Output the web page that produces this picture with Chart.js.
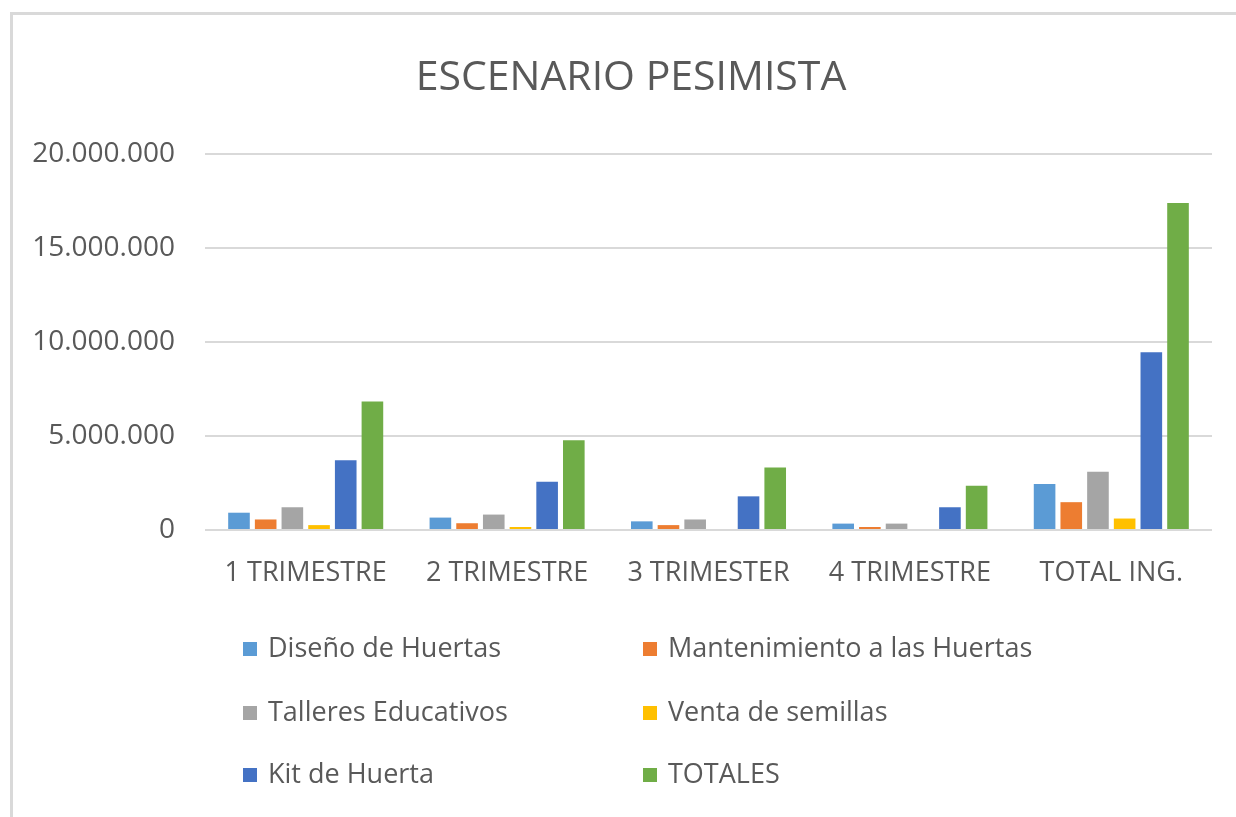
<!DOCTYPE html>
<html>
<head>
<meta charset="utf-8">
<script src="https://cdn.jsdelivr.net/npm/chart.js@4"></script>
<style>
  html, body { margin: 0; padding: 0; background: #fff; overflow: hidden; }
  #wrap { position: relative; width: 1236px; height: 817px; }
</style>
</head>
<body>
<div id="wrap"><canvas id="barChart" width="1236" height="817"></canvas></div>
<script>
const categories = ["1 TRIMESTRE", "2 TRIMESTRE", "3 TRIMESTER", "4 TRIMESTRE", "TOTAL ING."];
const seriesNames = ["Diseño de Huertas", "Mantenimiento a las Huertas", "Talleres Educativos", "Venta de semillas", "Kit de Huerta", "TOTALES"];
const diseno = [920000, 660000, 460000, 340000, 2450000];
const mantenimiento = [560000, 360000, 260000, 160000, 1480000];
const talleres = [1210000, 820000, 560000, 340000, 3100000];
const semillas = [260000, 160000, 0, 0, 610000];
const kit = [3710000, 2560000, 1790000, 1210000, 9460000];
const totales = [6840000, 4770000, 3320000, 2360000, 17400000];
const yTicks = [0, 5000000, 10000000, 15000000, 20000000];
const colors = ["#5b9bd5", "#ed7d31", "#a5a5a5", "#ffc000", "#4472c4", "#70ad47"];

const FONT = "'Open Sans', 'DejaVu Sans', sans-serif";
const TEXT = "#595959";

window.addEventListener("load", () => {
  const ctx = document.getElementById("barChart");
  const values = [diseno, mantenimiento, talleres, semillas, kit, totales];

  function fmt(v) {
    return String(v).replace(/\B(?=(\d{3})+(?!\d))/g, ".");
  }

  // 테두리, 제목, 범례 (2열)
  const framePlugin = {
    id: "frame",
    beforeDraw(chart) {
      const c = chart.ctx;
      c.save();
      c.strokeStyle = "#d9d9d9";
      c.lineWidth = 3;
      c.strokeRect(11.5, 13.5, 1300, 900);
      c.font = "41px " + FONT;
      c.fillStyle = TEXT;
      c.textAlign = "center";
      c.textBaseline = "middle";
      c.fillText("ESCENARIO PESIMISTA", 631, 78);
      c.restore();
    },
    afterDraw(chart) {
      const c = chart.ctx;
      const cols = [243, 643];
      const rows = [649, 713, 775];
      c.save();
      c.font = "27px " + FONT;
      c.textBaseline = "middle";
      c.textAlign = "left";
      chart.data.datasets.forEach((ds, i) => {
        const x = cols[i % 2];
        const y = rows[Math.floor(i / 2)];
        c.fillStyle = ds.backgroundColor;
        c.fillRect(x, y - 7, 14, 14);
        c.fillStyle = TEXT;
        c.fillText(ds.label, x + 25, y);
      });
      c.restore();
    },
  };

  new Chart(ctx, {
    type: "bar",
    data: {
      labels: categories,
      datasets: seriesNames.map((name, i) => ({
        label: name,
        data: values[i],
        backgroundColor: colors[i],
        borderWidth: 0,
        categoryPercentage: 0.795,
        barPercentage: 0.81,
      })),
    },
    options: {
      responsive: false,
      animation: false,
      layout: { padding: { top: 154, right: 24, bottom: 227, left: 0 } },
      plugins: {
        legend: { display: false },
        tooltip: { enabled: false },
        title: { display: false },
      },
      scales: {
        x: {
          grid: { display: false, drawTicks: false },
          border: { display: false },
          ticks: { color: TEXT, font: { family: FONT, size: 27 }, padding: 27, maxRotation: 0 },
          afterFit(scale) { scale.height = 60; },
        },
        y: {
          min: 0,
          max: 20000000,
          afterBuildTicks(scale) { scale.ticks = yTicks.map(v => ({ value: v })); },
          grid: { color: "#d9d9d9", lineWidth: 2, drawTicks: false },
          border: { display: false },
          ticks: { color: TEXT, font: { family: FONT, size: 28 }, padding: 30, callback: v => fmt(v) },
          afterFit(scale) { scale.width = 205; },
        },
      },
    },
    plugins: [framePlugin],
  });
});
</script>
</body>
</html>
